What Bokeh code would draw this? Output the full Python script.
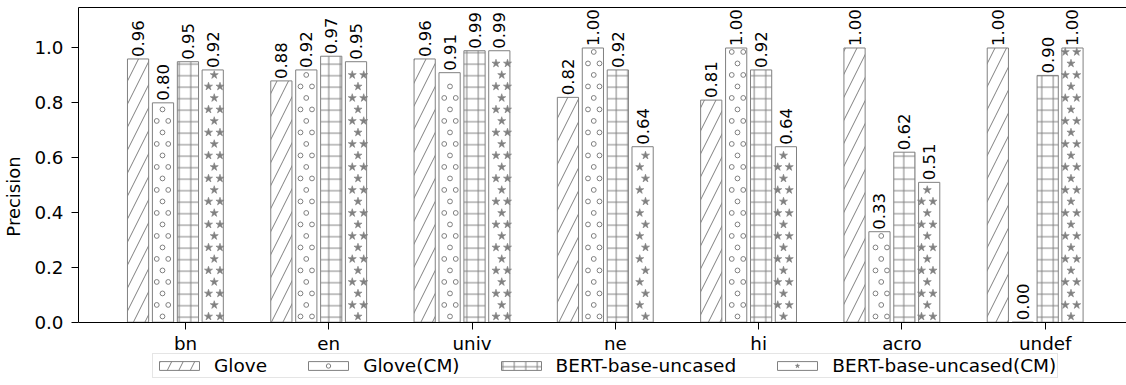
import math
from bokeh.plotting import figure
from bokeh.models import (ColumnDataSource, FixedTicker, LinearAxis, Legend,
                          LegendItem, Range1d, PrintfTickFormatter)
from bokeh.embed import file_html
from bokeh.resources import INLINE
from bokeh.core.properties import value

# ---------------- data ----------------
categories = ["bn", "en", "univ", "ne", "hi", "acro", "undef"]
series_names = ["Glove", "Glove(CM)", "BERT-base-uncased", "BERT-base-uncased(CM)"]
glove = [0.96, 0.88, 0.96, 0.82, 0.81, 1.00, 1.00]
glove_cm = [0.80, 0.92, 0.91, 1.00, 1.00, 0.33, 0.00]
bert = [0.95, 0.97, 0.99, 0.92, 0.92, 0.62, 0.90]
bert_cm = [0.92, 0.95, 0.99, 0.64, 0.64, 0.51, 1.00]
y_ticks = [0.0, 0.2, 0.4, 0.6, 0.8, 1.0]

# ---------------- style / layout ----------------
FONT = "DejaVu Sans"
GRAY = "#808080"
offsets = [-0.331, -0.157, 0.017, 0.190]
bar_width = 0.148
W, H = 1126, 385
BORDER_LEFT, BORDER_TOP = 78, 7
X0, X1 = -0.7467, 6.567
Y0, Y1 = -0.2309, 1.1477
px_x = (W - BORDER_LEFT) / (X1 - X0)
px_y = (H - BORDER_TOP) / (Y1 - Y0)

p = figure(width=W, height=H, output_backend="svg", toolbar_location=None,
           x_range=Range1d(X0, X1), y_range=Range1d(Y0, Y1),
           min_border_left=BORDER_LEFT, min_border_right=0, min_border_top=BORDER_TOP,
           min_border_bottom=0)
p.outline_line_color = None
p.xgrid.visible = False
p.ygrid.visible = False
p.background_fill_color = "white"
p.border_fill_color = "white"

hatches = [("/", 23), (None, 12), ("+", 11.5), (None, 12)]
all_series = [glove, glove_cm, bert, bert_cm]
renderers = []
for i, vals in enumerate(all_series):
    src = ColumnDataSource(dict(
        x=[j + offsets[i] for j in range(len(categories))],
        top=vals,
        label=["%.2f" % v for v in vals],
    ))
    pat, scale = hatches[i]
    r = p.vbar(x="x", top="top", bottom=0, width=bar_width, source=src,
               fill_color="white", line_color=GRAY, line_width=1,
               hatch_pattern=pat, hatch_color=GRAY, hatch_weight=1, hatch_scale=scale)
    renderers.append([r])
    p.text(x="x", y="top", text="label", source=src, angle=math.pi / 2,
           text_align="left", text_baseline="middle", y_offset=-2,
           text_font=value(FONT), text_font_size="16.5px", text_color="black")


def lattice(vals, offset, edge_px, top_px):
    """Staggered matplotlib-like hatch lattice (11.5 px pitch) inside each bar."""
    dx = 11.5 / px_x
    dy = 11.5 / px_y
    xs, ys = [], []
    for j, v in enumerate(vals):
        left = j + offset - bar_width / 2 + edge_px / px_x
        right = j + offset + bar_width / 2 - edge_px / px_x
        r_i = 0
        while (r_i + 0.5) * dy + top_px / px_y <= v:
            yy = (r_i + 0.5) * dy
            shift = 0.5 if r_i % 2 else 0.0
            k = math.floor(left / dx) - 1
            while (k + shift) * dx <= right:
                xx = (k + shift) * dx
                if xx >= left:
                    xs.append(xx)
                    ys.append(yy)
                k += 1
            r_i += 1
    return xs, ys


# small rings for Glove(CM)
cx, cy = lattice(glove_cm, offsets[1], 3.0, 3.0)
rings = p.scatter(x=cx, y=cy, marker="circle", size=4.8, fill_color=None,
                  line_color=GRAY, line_width=1)
renderers[1].append(rings)

# filled stars for BERT-base-uncased(CM)
sx, sy = lattice(bert_cm, offsets[3], 2.0, 3.0)
stars = p.scatter(x=sx, y=sy, marker="star", size=8.5, fill_color=GRAY,
                  line_color=GRAY, line_width=0.6)
renderers[3].append(stars)

# axes
for ax in (p.xaxis[0], p.yaxis[0]):
    ax.major_tick_out = 7
    ax.major_tick_in = 0
    ax.minor_tick_out = 0
    ax.minor_tick_in = 0
    ax.axis_line_color = "black"
    ax.major_tick_line_color = "black"
    ax.major_label_text_font = FONT
    ax.major_label_text_font_size = "18.3px"
    ax.major_label_text_color = "black"

p.xaxis.ticker = FixedTicker(ticks=list(range(len(categories))))
p.xaxis.major_label_overrides = {i: c for i, c in enumerate(categories)}
p.xaxis.major_label_standoff = 4
p.xaxis.fixed_location = 0

p.yaxis.ticker = FixedTicker(ticks=y_ticks)
p.yaxis.formatter = PrintfTickFormatter(format="%.1f")
p.yaxis.bounds = (0, Y1)
p.yaxis.major_label_standoff = 8
p.yaxis.axis_label = "Precision"
p.yaxis.axis_label_text_font = FONT
p.yaxis.axis_label_text_font_size = "18px"
p.yaxis.axis_label_text_font_style = "normal"
p.yaxis.axis_label_text_color = "black"
p.yaxis.axis_label_standoff = 7

top_axis = LinearAxis(ticker=FixedTicker(ticks=[]), major_tick_out=0, major_tick_in=0,
                      minor_tick_out=0, minor_tick_in=0, axis_line_color="black")
p.add_layout(top_axis, "above")

legend = Legend(
    items=[LegendItem(label=n, renderers=rs) for n, rs in zip(series_names, renderers)],
    orientation="horizontal", location=(74, 7), margin=0,
    glyph_width=50, glyph_height=11, label_standoff=10, spacing=36, padding=1,
    label_text_font=FONT, label_text_font_size="18.5px", label_text_color="black",
    border_line_color="#cccccc", border_line_width=1, background_fill_alpha=0.8,
)
p.add_layout(legend)

open("out.html", "w").write(file_html(p, INLINE))
